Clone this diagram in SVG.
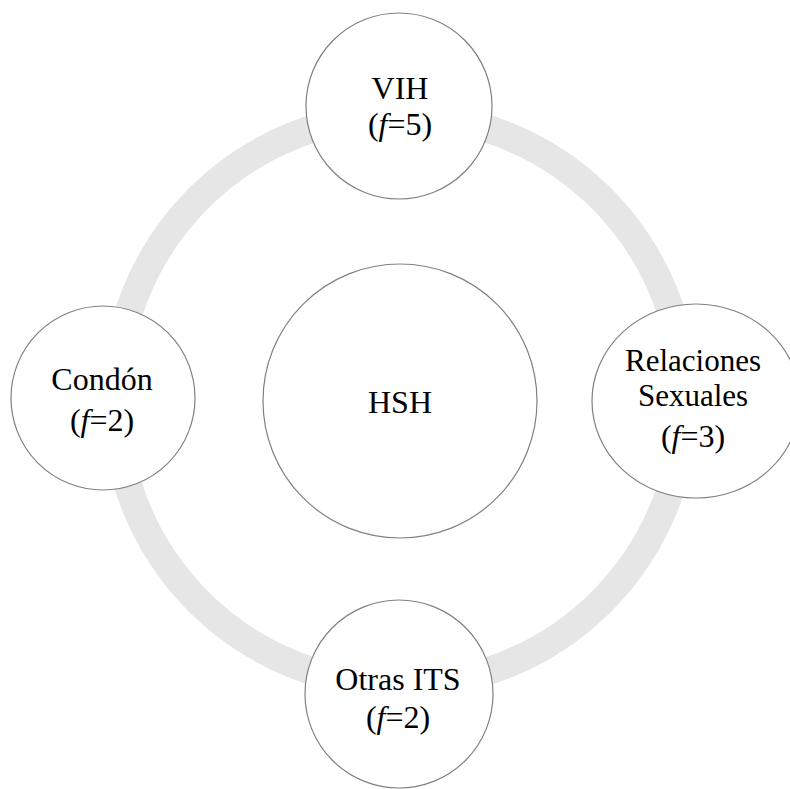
<svg xmlns="http://www.w3.org/2000/svg" width="790" height="789" viewBox="0 0 790 789">
  <style>
    .ring { fill: none; stroke: #e6e6e6; stroke-width: 28; }
    .node { fill: #ffffff; stroke: #808080; stroke-width: 1.2; }
    .label { font-family: "Liberation Serif", "Times New Roman", serif; font-size: 32px; fill: #000000; text-anchor: middle; }
    .tight { font-size: 31px; }
    .it { font-style: italic; }
  </style>
  <rect width="790" height="789" fill="#ffffff"/>

  <!-- circular connector linking the outer nodes -->
  <g id="connectors">
    <circle class="ring" cx="400" cy="400" r="285"/>
  </g>

  <g id="node-hsh">
    <circle class="node" cx="400" cy="401" r="137"/>
    <text class="label" x="400" y="413">HSH</text>
  </g>

  <g id="node-vih">
    <circle class="node" cx="399" cy="106" r="93"/>
    <text class="label" x="400" y="99">VIH</text>
    <text class="label" x="400" y="135">(<tspan class="it">f</tspan>=5)</text>
  </g>

  <g id="node-condon">
    <circle class="node" cx="103" cy="398" r="92"/>
    <text class="label" x="102" y="390">Condón</text>
    <text class="label" x="102" y="431">(<tspan class="it">f</tspan>=2)</text>
  </g>

  <g id="node-relaciones">
    <ellipse class="node" cx="696" cy="401" rx="104" ry="97"/>
    <text class="label tight" x="693" y="371">Relaciones</text>
    <text class="label tight" x="693" y="406">Sexuales</text>
    <text class="label" x="693" y="447">(<tspan class="it">f</tspan>=3)</text>
  </g>

  <g id="node-otras-its">
    <circle class="node" cx="399" cy="694" r="94"/>
    <text class="label" x="398" y="690">Otras ITS</text>
    <text class="label" x="398" y="728">(<tspan class="it">f</tspan>=2)</text>
  </g>
</svg>
